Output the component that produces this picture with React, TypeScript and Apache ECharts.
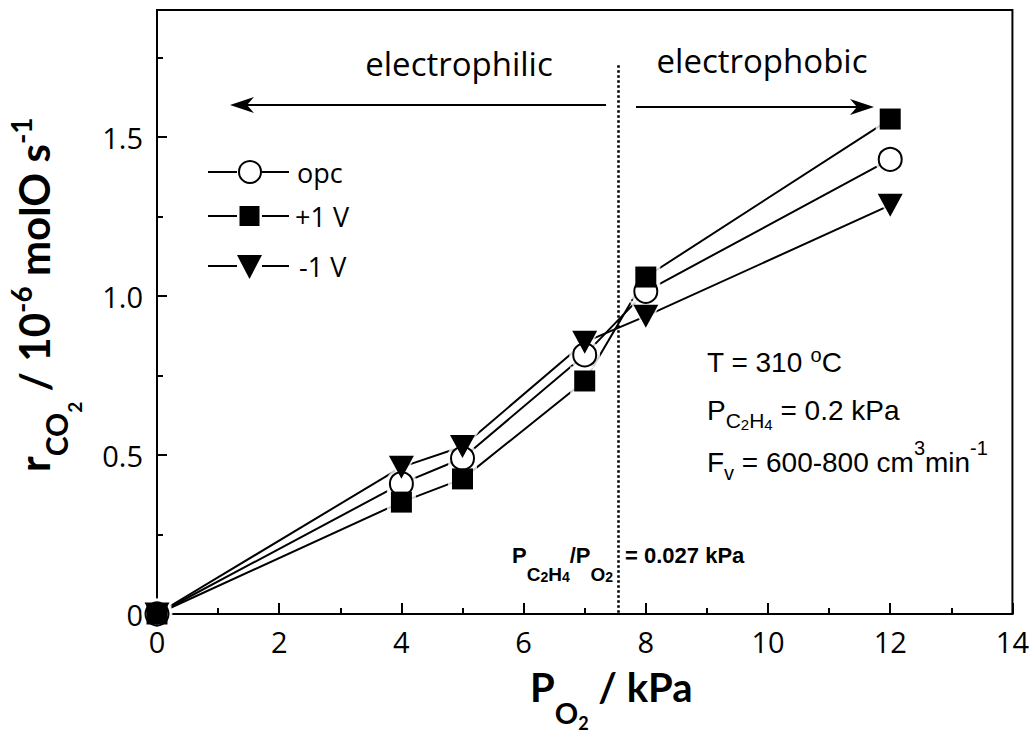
import React, { useEffect, useRef } from 'react';
import * as echarts from 'echarts';

// ---- data ----
const pressures = [0, 4, 5, 7, 8, 12];
const rateOpc = [0, 0.41, 0.49, 0.815, 1.015, 1.43];
const ratePlus = [0, 0.352, 0.425, 0.733, 1.06, 1.557];
const rateMinus = [0, 0.462, 0.527, 0.855, 0.937, 1.286];
const seriesNames = ['opc', '+1 V', '-1 V'];
const yMajorTicks = [0, 0.5, 1.0, 1.5];
const yMinorTicks = [0.25, 0.75, 1.25, 1.75];
const boundaryX = 7.55;
const boundaryTop = 1.726;

const black = '#000';

type Seg = { t: string; fs: number; dy: number; padL?: number };
function richText(
  x: number,
  yCenter: number,
  segs: Seg[],
  family: string,
  bold: boolean,
  rotation = 0
) {
  const C = 40;
  const rich: Record<string, any> = {};
  segs.forEach((s, i) => {
    rich['s' + i] = {
      fontSize: s.fs,
      fontFamily: family,
      fontWeight: bold ? 'bold' : 'normal',
      fill: black,
      verticalAlign: 'top',
      padding: [C + s.dy - s.fs / 2, 0, 0, s.padL || 0],
    };
  });
  const text = segs.map((s, i) => `{s${i}|${s.t}}`).join('');
  if (rotation) {
    return {
      type: 'text',
      x: yCenter - C,
      y: x,
      rotation,
      silent: true,
      style: { text, rich, align: 'left', verticalAlign: 'top' },
    };
  }
  return {
    type: 'text',
    x,
    y: yCenter - C,
    silent: true,
    style: { text, rich, align: 'left', verticalAlign: 'top' },
  };
}

export default function App() {
  const ref = useRef<HTMLDivElement>(null);
  useEffect(() => {
    if (!ref.current) return;
    const chart = echarts.init(ref.current, null, { renderer: 'svg' });
    const values = [rateOpc, ratePlus, rateMinus];
    const defs = [
      { symbol: 'circle', size: 23 as any, fill: '#fff', border: 2, rotate: 0 },
      { symbol: 'rect', size: 21 as any, fill: black, border: 0, rotate: 0 },
      { symbol: 'triangle', size: [25, 23] as any, fill: black, border: 0, rotate: 180 },
    ];
    const toData = (v: number[]) => pressures.map((p, i) => [p, v[i]]);
    const grow = (s: any, d: number) => (Array.isArray(s) ? [s[0] + d, s[1] + d] : s + d);

    const series: any[] = [];
    values.forEach((v, i) => {
      series.push({
        type: 'line',
        name: seriesNames[i],
        data: toData(v),
        showSymbol: false,
        symbol: 'none',
        lineStyle: { color: black, width: 2 },
        z: 2,
        silent: true,
        ...(i === 0
          ? {
              markLine: {
                silent: true,
                symbol: ['none', 'none'],
                label: { show: false },
                lineStyle: { type: [2.5, 2.5], color: black, width: 2.6, opacity: 1 },
                data: [[{ coord: [boundaryX, boundaryTop] }, { coord: [boundaryX, 0] }]],
              },
            }
          : {}),
      });
    });
    values.forEach((v, i) => {
      const d = defs[i];
      series.push({
        type: 'scatter',
        data: toData(v),
        symbol: d.symbol,
        symbolSize: grow(d.size, 8),
        symbolRotate: d.rotate,
        itemStyle: { color: '#fff' },
        z: 3,
        silent: true,
      });
    });
    values.forEach((v, i) => {
      const d = defs[i];
      series.push({
        type: 'scatter',
        name: seriesNames[i],
        data: toData(v),
        symbol: d.symbol,
        symbolSize: d.size,
        symbolRotate: d.rotate,
        itemStyle: { color: d.fill, borderColor: black, borderWidth: d.border, opacity: 1 },
        z: 4,
        silent: true,
      });
    });

    const legendRows = [172, 216, 266];
    const legendTextX = [297, 295, 299];
    const legendGraphics: any[] = [];
    legendRows.forEach((cy, i) => {
      legendGraphics.push(
        { type: 'line', shape: { x1: 208, y1: cy, x2: 237, y2: cy }, style: { stroke: black, lineWidth: 2 } },
        { type: 'line', shape: { x1: 262, y1: cy, x2: 289, y2: cy }, style: { stroke: black, lineWidth: 2 } }
      );
      if (i === 0)
        legendGraphics.push({ type: 'circle', shape: { cx: 250, cy, r: 11 }, style: { fill: '#fff', stroke: black, lineWidth: 2 } });
      if (i === 1)
        legendGraphics.push({ type: 'rect', shape: { x: 239.5, y: cy - 10, width: 20, height: 20 }, style: { fill: black } });
      if (i === 2)
        legendGraphics.push({
          type: 'polygon',
          shape: { points: [[237, cy - 11], [262, cy - 11], [249.5, cy + 13]] },
          style: { fill: black },
        });
      legendGraphics.push({
        type: 'text',
        x: legendTextX[i],
        y: cy,
        style: { text: seriesNames[i], fontSize: 27, fontFamily: 'Open Sans', fill: black, align: 'left', verticalAlign: 'middle' },
      });
    });

    const option: any = {
      animation: false,
      backgroundColor: '#fff',
      grid: { left: 157, top: 10, right: 17, bottom: 120, show: true, borderColor: black, borderWidth: 2, backgroundColor: 'transparent' },
      xAxis: {
        type: 'value',
        min: 0,
        max: 14,
        interval: 2,
        axisLine: { show: true, lineStyle: { color: black, width: 2 } },
        axisTick: { show: true, inside: true, length: 11, lineStyle: { color: black, width: 2 } },
        minorTick: { show: true, splitNumber: 2, length: 6, lineStyle: { color: black, width: 2, opacity: 1 } },
        axisLabel: { fontFamily: 'Open Sans', fontSize: 29, color: black, margin: 13 },
        splitLine: { show: false },
        minorSplitLine: { show: false },
      },
      yAxis: [
        {
          type: 'value',
          min: 0,
          max: 1.9,
          interval: 0.5,
          axisLine: { show: true, lineStyle: { color: black, width: 2 } },
          axisTick: { show: true, inside: true, length: 10, lineStyle: { color: black, width: 2 }, customValues: yMajorTicks },
          axisLabel: {
            customValues: yMajorTicks,
            fontFamily: 'Open Sans',
            fontSize: 29,
            color: black,
            margin: 14,
            formatter: (v: number) => (v === 0 ? '0' : v.toFixed(1)),
          },
          splitLine: { show: false },
        },
        {
          type: 'value',
          min: 0,
          max: 1.9,
          position: 'left',
          axisLine: { show: false },
          axisTick: { show: true, inside: true, length: 6, lineStyle: { color: black, width: 2 }, customValues: yMinorTicks },
          axisLabel: { show: false },
          splitLine: { show: false },
        },
      ],
      series,
      graphic: [
        { type: 'line', shape: { x1: 238, y1: 105, x2: 606, y2: 105 }, style: { stroke: black, lineWidth: 2 } },
        { type: 'polygon', shape: { points: [[230, 105], [254, 97], [247, 105], [254, 113]] }, style: { fill: black } },
        { type: 'line', shape: { x1: 636, y1: 107, x2: 866, y2: 107 }, style: { stroke: black, lineWidth: 2 } },
        { type: 'polygon', shape: { points: [[874, 107], [850, 99], [857, 107], [850, 115]] }, style: { fill: black } },
        {
          type: 'text', x: 459, y: 63,
          style: { text: 'electrophilic', fontSize: 33, fontFamily: 'Open Sans', fill: black, align: 'center', verticalAlign: 'middle' },
        },
        {
          type: 'text', x: 762, y: 60,
          style: { text: 'electrophobic', fontSize: 33, fontFamily: 'Open Sans', fill: black, align: 'center', verticalAlign: 'middle' },
        },
        ...legendGraphics,
        richText(707, 362.3, [
          { t: 'T = 310 ', fs: 28, dy: 0 },
          { t: 'o', fs: 20, dy: -7.5 },
          { t: 'C', fs: 28, dy: 0 },
        ], 'Liberation Sans', false),
        richText(707, 410.3, [
          { t: 'P', fs: 28, dy: 0 },
          { t: 'C', fs: 21, dy: 10 },
          { t: '2', fs: 15, dy: 14 },
          { t: 'H', fs: 21, dy: 10 },
          { t: '4', fs: 15, dy: 14 },
          { t: ' = 0.2 kPa', fs: 28, dy: 0 },
        ], 'Liberation Sans', false),
        richText(707, 462.3, [
          { t: 'F', fs: 28, dy: 0 },
          { t: 'v', fs: 20, dy: 10.8 },
          { t: ' = 600-800 cm', fs: 28, dy: 0 },
          { t: '3', fs: 20, dy: -14.2 },
          { t: 'min', fs: 28, dy: 0 },
          { t: '-1', fs: 20, dy: -14.2 },
        ], 'Liberation Sans', false),
        richText(512, 555.4, [
          { t: 'P', fs: 22, dy: 0 },
          { t: 'C', fs: 19, dy: 19 },
          { t: '2', fs: 14, dy: 22 },
          { t: 'H', fs: 19, dy: 19 },
          { t: '4', fs: 14, dy: 22 },
          { t: '/P', fs: 22, dy: 0 },
          { t: 'O', fs: 19, dy: 19 },
          { t: '2', fs: 14, dy: 22 },
          { t: '= 0.027 kPa', fs: 22, dy: 0, padL: 12 },
        ], 'Liberation Sans', true),
        richText(530, 686.5, [
          { t: 'P', fs: 40, dy: 0 },
          { t: 'O', fs: 29, dy: 26 },
          { t: '2', fs: 18, dy: 36 },
          { t: ' / kPa', fs: 40, dy: 0 },
        ], 'Lato', true),
        richText(472, 33.7, [
          { t: 'r', fs: 42, dy: 0 },
          { t: 'CO', fs: 30, dy: 22.7 },
          { t: '2', fs: 19, dy: 40.9 },
          { t: ' / 10', fs: 42, dy: 0 },
          { t: '-6', fs: 28, dy: -12.5 },
          { t: ' molO s', fs: 42, dy: 0 },
          { t: '-1', fs: 28, dy: -12.5 },
        ], 'Lato', true, Math.PI / 2),
      ],
    };
    chart.setOption(option);
    return () => chart.dispose();
  }, []);
  return <div ref={ref} style={{ position: 'fixed', left: 0, top: 0, width: 1032, height: 734 }} />;
}
